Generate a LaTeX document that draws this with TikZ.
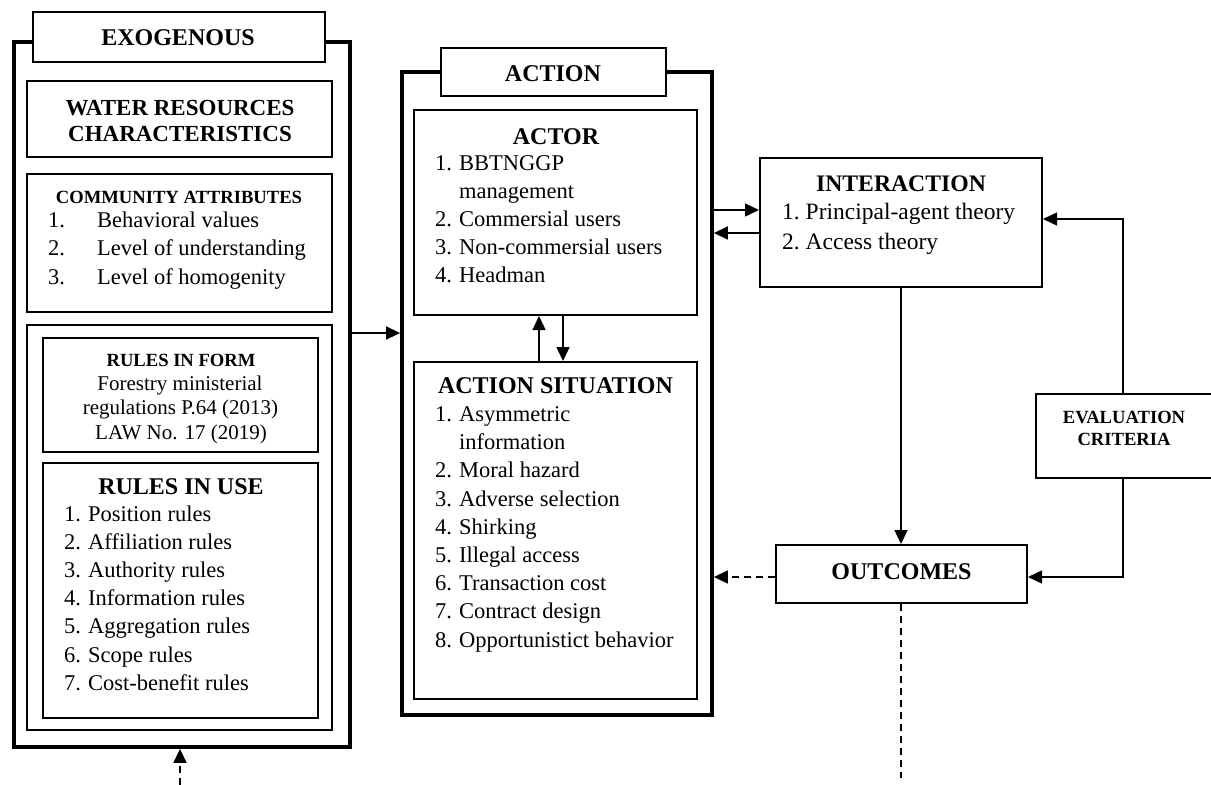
\documentclass[tikz,border=0pt]{standalone}
\usepackage{fontspec}
\setmainfont{Liberation Serif}
\usetikzlibrary{arrows.meta,calc}
\begin{document}
\begin{tikzpicture}[x=1pt,y=-1pt,
  inbox/.style={draw,line width=2pt,inner sep=0},
  titlebox/.style={draw,line width=2pt,fill=white,inner sep=0},
  txt/.style={inner sep=0,anchor=base west,font=\fontsize{22.5}{28}\selectfont},
  head/.style={inner sep=0,anchor=base,font=\fontsize{24}{28}\selectfont\bfseries},
  small/.style={inner sep=0,anchor=base,font=\fontsize{18.6}{22}\selectfont\bfseries},
  formtxt/.style={inner sep=0,anchor=base,font=\fontsize{21}{25}\selectfont},
  conn/.style={line width=1.5pt,-{Triangle[length=14pt,width=13pt]}},
  dconn/.style={conn,dash pattern=on 7pt off 5pt},
  dline/.style={line width=1.5pt,dash pattern=on 7pt off 5pt}
]
\useasboundingbox (0,0) rectangle (1211,785);
\newcommand\mybox[6]{\node[#1,minimum width={#4-#2},minimum height={#5-#3}] (#6) at ({(#2+#4)/2},{(#3+#5)/2}) {};}
% ---------- EXOGENOUS ----------
\mybox{inbox,line width=3.8pt}{14}{42}{350}{747}{exo}
\mybox{titlebox}{33}{12}{325}{62}{exoT}
\node[head] (exoTt) at (178,45.7) {EXOGENOUS};
\mybox{inbox}{27}{81}{332}{157}{water}
\node[head,font=\fontsize{23}{28}\selectfont\bfseries] (water1) at (180,115) {WATER RESOURCES};
\node[head,font=\fontsize{23}{28}\selectfont\bfseries] (water2) at (180,141.7) {CHARACTERISTICS};
\mybox{inbox}{27}{174}{332}{312}{comm}
\node[small] (commT) at (179,203) {COMMUNITY ATTRIBUTES};
\node[txt] (c1) at (48,227) {\makebox[49pt][l]{1.}Behavioral values};
\node[txt] (c2) at (48,255.5) {\makebox[49pt][l]{2.}Level of understanding};
\node[txt] (c3) at (48,284) {\makebox[49pt][l]{3.}Level of homogenity};
\mybox{inbox}{27}{325}{332}{730}{rules}
\mybox{inbox}{43}{338}{318}{452}{rif}
\node[small] (rifT) at (181,366.7) {RULES IN FORM};
\node[formtxt] (rif1) at (180,390) {Forestry ministerial};
\node[formtxt] (rif2) at (180.5,414.3) {regulations P.64 (2013)};
\node[formtxt] (rif3) at (181,439) {LAW No. 17 (2019)};
\mybox{inbox}{43}{463}{318}{718}{riu}
\node[head] (riuT) at (181,494) {RULES IN USE};
\foreach \t [count=\i from 0] in {Position rules,Affiliation rules,Authority rules,Information rules,Aggregation rules,Scope rules,Cost-benefit rules}{
  \pgfmathtruncatemacro{\n}{\i+1}
  \node[txt] (riu\n) at (64,{521+28.2*\i}) {\makebox[24pt][l]{\n.}\t};
}
% ---------- ACTION ----------
\mybox{inbox,line width=3.8pt}{402}{72}{712}{715}{act}
\mybox{titlebox}{441}{48}{666}{96}{actT}
\node[head] (actTt) at (553,81) {ACTION};
\mybox{inbox}{414}{110}{697}{315}{actor}
\node[head] (actorT) at (556,144) {ACTOR};
\node[txt] (a1) at (435,170) {\makebox[24pt][l]{1.}BBTNGGP};
\node[txt] (a1b) at (459,198) {management};
\node[txt] (a2) at (435,226) {\makebox[24pt][l]{2.}Commersial users};
\node[txt] (a3) at (435,254) {\makebox[24pt][l]{3.}Non-commersial users};
\node[txt] (a4) at (435,282) {\makebox[24pt][l]{4.}Headman};
\mybox{inbox}{414}{362}{697}{699}{sit}
\node[head] (sitT) at (555.5,393) {ACTION SITUATION};
\node[txt] (s1) at (435,421.5) {\makebox[24pt][l]{1.}Asymmetric};
\node[txt] (s1b) at (459,449.7) {information};
\foreach \t [count=\i from 1] in {Moral hazard,Adverse selection,Shirking,Illegal access,Transaction cost,Contract design,Opportunistict behavior}{
  \pgfmathtruncatemacro{\n}{\i+1}
  \node[txt] (s\n) at (435,{449.7+28.2*\i}) {\makebox[24pt][l]{\n.}\t};
}
% ---------- INTERACTION ----------
\mybox{inbox}{760}{158}{1042}{287}{inter}
\node[head,font=\fontsize{23.7}{28}\selectfont\bfseries] (interT) at (901,191) {INTERACTION};
\node[txt,font=\fontsize{23.5}{28}\selectfont] (i1) at (782,219) {\makebox[23.5pt][l]{1.}Principal-agent theory};
\node[txt,font=\fontsize{23.5}{28}\selectfont] (i2) at (782,249) {\makebox[23.5pt][l]{2.}Access theory};
% ---------- EVALUATION ----------
\mybox{inbox}{1036}{394}{1214}{478}{eval}
\node[small] (ev1) at (1124,423.3) {EVALUATION};
\node[small] (ev2) at (1124,445.7) {CRITERIA};
% ---------- OUTCOMES ----------
\mybox{inbox}{776}{545}{1027}{603}{outc}
\node[head] (outcT) at (901.5,579) {OUTCOMES};
% ---------- connectors ----------
\coordinate (y333) at (0,333);
\coordinate (y210) at (0,210);
\coordinate (y233) at (0,233);
\coordinate (y219) at (0,219);
\coordinate (y577) at (0,577);
\coordinate (x539) at (539,0);
\coordinate (x563) at (563,0);
\coordinate (x1123) at (1123,0);
\coordinate (x901) at (901,0);
\coordinate (outEnd) at (901,778);
\coordinate (exoIn) at (180,785);
\draw[conn] (exo.east |- y333) -- (act.west |- y333);
\draw[conn] (x539 |- sit.north) -- (x539 |- actor.south);
\draw[conn] (x563 |- actor.south) -- (x563 |- sit.north);
\draw[conn] (act.east |- y210) -- (inter.west |- y210);
\draw[conn] (inter.west |- y233) -- (act.east |- y233);
\draw[conn] (x901 |- inter.south) -- (x901 |- outc.north);
\draw[conn] (x1123 |- eval.north) -- (x1123 |- y219) -- (inter.east |- y219);
\draw[conn] (x1123 |- eval.south) -- (x1123 |- y577) -- (outc.east |- y577);
\draw[dconn] (outc.west |- y577) -- (act.east |- y577);
\draw[dline] (x901 |- outc.south) -- (outEnd);
\draw[dconn] (exoIn) -- (exoIn |- exo.south);
\end{tikzpicture}
\end{document}
